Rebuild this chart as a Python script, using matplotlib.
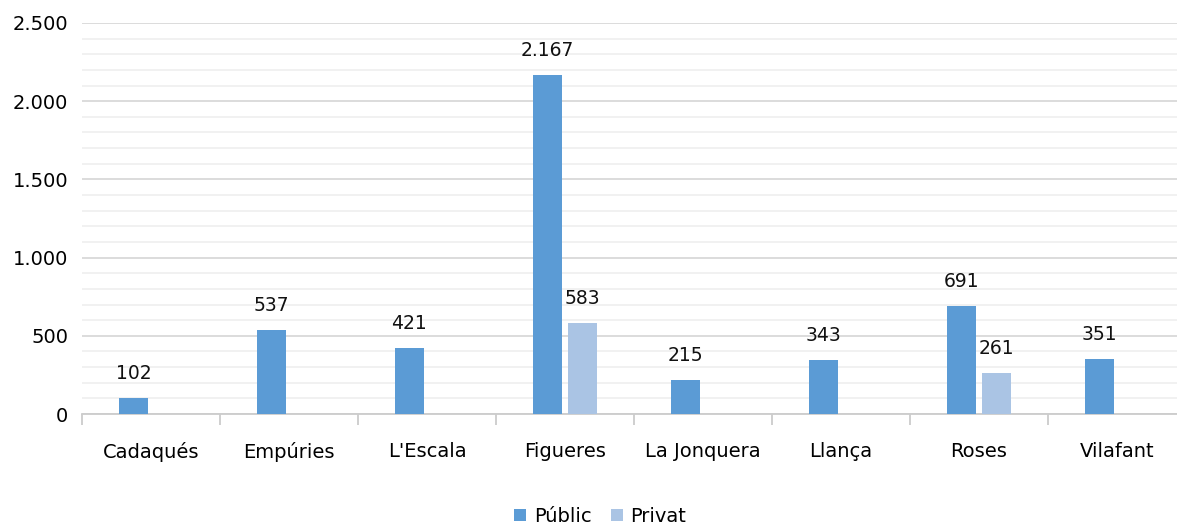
import numpy as np
import matplotlib.pyplot as plt
from matplotlib.ticker import FuncFormatter, MultipleLocator, FixedLocator

municipis = ["Cadaqués", "Empúries", "L'Escala", "Figueres", "La Jonquera", "Llança", "Roses", "Vilafant"]
public = [102, 537, 421, 2167, 215, 343, 691, 351]
privat = [0, 0, 0, 583, 0, 0, 261, 0]

c_public = "#5b9bd5"
c_privat = "#aac4e4"

fig = plt.figure(figsize=(11.77, 5.27), dpi=100)
ax = fig.add_axes([82 / 1177, 1 - 414 / 527, 1104 / 1177, (414 - 23) / 527])

x = np.arange(len(municipis))
w = 0.21
off = 0.128
b1 = ax.bar(x - off, public, w, color=c_public, label="Públic", zorder=3)
b2 = ax.bar(x + off, privat, w, color=c_privat, label="Privat", zorder=3)

def fmt(v):
    return f"{int(v):,}".replace(",", ".")

for bars, vals in [(b1, public), (b2, privat)]:
    for rect, v in zip(bars, vals):
        if v > 0:
            ax.annotate(fmt(v), (rect.get_x() + rect.get_width() / 2, v), xytext=(0, 11),
                        textcoords="offset points", ha="center", va="bottom",
                        fontsize=13.5, color="#111111")

ax.set_xlim(-0.5, len(municipis) - 0.5)
ax.set_ylim(0, 2500)
ax.yaxis.set_major_locator(MultipleLocator(500))
ax.yaxis.set_minor_locator(MultipleLocator(100))
ax.yaxis.set_major_formatter(FuncFormatter(lambda v, p: fmt(v)))
ax.grid(axis="y", which="major", color="#d9d9d9", linewidth=1.3, zorder=0)
ax.grid(axis="y", which="minor", color="#f0f0f0", linewidth=1.3, zorder=0)
ax.tick_params(axis="y", which="both", length=0, labelsize=14, pad=10)

ax.set_xticks(x)
ax.set_xticklabels(municipis)
ax.xaxis.set_minor_locator(FixedLocator(np.arange(-0.5, len(municipis), 1.0)))
ax.tick_params(axis="x", which="major", length=0, labelsize=14, pad=20)
ax.tick_params(axis="x", which="minor", length=8, width=1.3, color="#cccccc")

for s in ["top", "right", "left"]:
    ax.spines[s].set_visible(False)
ax.spines["bottom"].set_color("#cccccc")
ax.spines["bottom"].set_linewidth(1.3)

fig.legend(loc="center", bbox_to_anchor=(0.51, 0.02), ncol=2, frameon=False, fontsize=14,
           handlelength=0.6, handleheight=0.6, handletextpad=0.4, columnspacing=1.0)

fig.savefig("out.png", dpi=100)
